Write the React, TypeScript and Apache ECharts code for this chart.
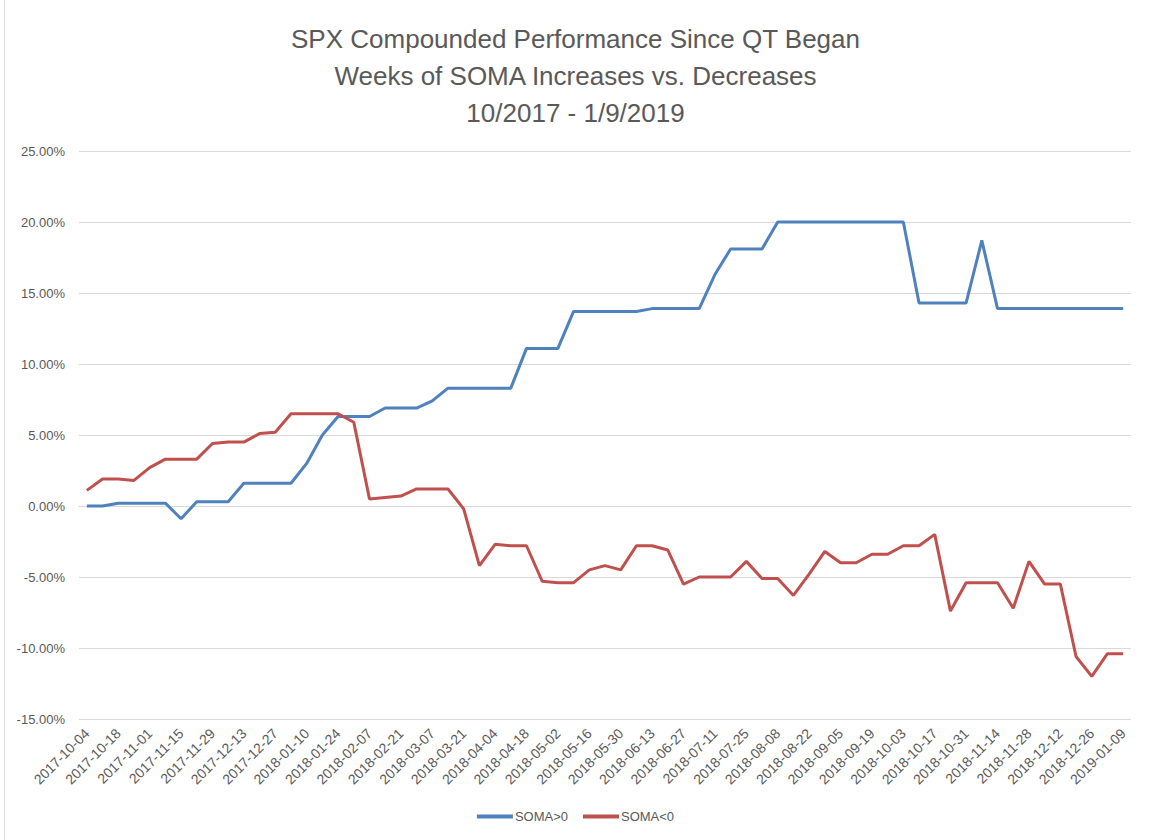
import React, { useEffect, useRef } from "react";
import * as echarts from "echarts";

const dates: string[] = [
  "2017-10-04", "2017-10-11", "2017-10-18", "2017-10-25", "2017-11-01", "2017-11-08", "2017-11-15", "2017-11-22", "2017-11-29",
  "2017-12-06", "2017-12-13", "2017-12-20", "2017-12-27", "2018-01-03", "2018-01-10", "2018-01-17", "2018-01-24", "2018-01-31",
  "2018-02-07", "2018-02-14", "2018-02-21", "2018-02-28", "2018-03-07", "2018-03-14", "2018-03-21", "2018-03-28", "2018-04-04",
  "2018-04-11", "2018-04-18", "2018-04-25", "2018-05-02", "2018-05-09", "2018-05-16", "2018-05-23", "2018-05-30", "2018-06-06",
  "2018-06-13", "2018-06-20", "2018-06-27", "2018-07-04", "2018-07-11", "2018-07-18", "2018-07-25", "2018-08-01", "2018-08-08",
  "2018-08-15", "2018-08-22", "2018-08-29", "2018-09-05", "2018-09-12", "2018-09-19", "2018-09-26", "2018-10-03", "2018-10-10",
  "2018-10-17", "2018-10-24", "2018-10-31", "2018-11-07", "2018-11-14", "2018-11-21", "2018-11-28", "2018-12-05", "2018-12-12",
  "2018-12-19", "2018-12-26", "2019-01-02", "2019-01-09",
];

// values in percent
const somaUp: number[] = [
  0.0, 0.0, 0.2, 0.2, 0.2, 0.2, -0.9, 0.3, 0.3, 0.3,
  1.6, 1.6, 1.6, 1.6, 3.0, 5.0, 6.3, 6.3, 6.3, 6.9,
  6.9, 6.9, 7.4, 8.3, 8.3, 8.3, 8.3, 8.3, 11.1, 11.1,
  11.1, 13.7, 13.7, 13.7, 13.7, 13.7, 13.9, 13.9, 13.9, 13.9,
  16.3, 18.1, 18.1, 18.1, 20.0, 20.0, 20.0, 20.0, 20.0, 20.0,
  20.0, 20.0, 20.0, 14.3, 14.3, 14.3, 14.3, 18.7, 13.9, 13.9,
  13.9, 13.9, 13.9, 13.9, 13.9, 13.9, 13.9,
];

const somaDown: number[] = [
  1.1, 1.9, 1.9, 1.8, 2.7, 3.3, 3.3, 3.3, 4.4, 4.5,
  4.5, 5.1, 5.2, 6.5, 6.5, 6.5, 6.5, 5.9, 0.5, 0.6,
  0.7, 1.2, 1.2, 1.2, -0.2, -4.2, -2.7, -2.8, -2.8, -5.3,
  -5.4, -5.4, -4.5, -4.2, -4.5, -2.8, -2.8, -3.1, -5.5, -5.0,
  -5.0, -5.0, -3.9, -5.1, -5.1, -6.3, -4.8, -3.2, -4.0, -4.0,
  -3.4, -3.4, -2.8, -2.8, -2.0, -7.4, -5.4, -5.4, -5.4, -7.2,
  -3.9, -5.5, -5.5, -10.6, -12.0, -10.4, -10.4,
];

const titleLines: string[] = [
  "SPX Compounded Performance Since QT Began",
  "Weeks of SOMA Increases vs. Decreases",
  "10/2017 - 1/9/2019",
];

export default function App() {
  const ref = useRef<HTMLDivElement>(null);
  useEffect(() => {
    if (!ref.current) return;
    const chart = echarts.init(ref.current, undefined, { renderer: "svg" });
    const font = "'Liberation Sans', Arial, sans-serif";
    chart.setOption({
      animation: false,
      backgroundColor: "#ffffff",
      textStyle: { fontFamily: font },
      title: {
        text: titleLines.join("\n"),
        left: "center",
        top: 20,
        padding: 0,
        textStyle: { fontSize: 26, fontWeight: "normal", color: "#595959", lineHeight: 37, fontFamily: font },
      },
      graphic: [
        { type: "line", shape: { x1: 4.5, y1: 0, x2: 4.5, y2: 840 }, style: { stroke: "#d9d9d9", lineWidth: 1 } },
      ],
      legend: {
        top: 810,
        left: "center",
        icon: "rect",
        itemWidth: 36,
        itemHeight: 4,
        itemGap: 15,
        padding: 0,
        textStyle: { fontSize: 13, color: "#595959", fontFamily: font, padding: [0, 0, 0, -3] },
        data: ["SOMA>0", "SOMA<0"],
      },
      grid: { left: 79, right: 20, top: 151, bottom: 121 },
      xAxis: {
        type: "category",
        data: dates,
        boundaryGap: true,
        axisLine: { show: true, lineStyle: { color: "#d9d9d9" } },
        axisTick: { show: false },
        axisLabel: { interval: 1, rotate: 45, fontSize: 14, color: "#595959", margin: 12, fontFamily: font },
      },
      yAxis: {
        type: "value",
        min: -15,
        max: 25,
        interval: 5,
        axisLine: { show: false },
        axisTick: { show: false },
        splitLine: { lineStyle: { color: "#d9d9d9", width: 1 } },
        axisLabel: {
          fontSize: 13,
          color: "#595959",
          margin: 14,
          fontFamily: font,
          formatter: (v: number) => v.toFixed(2) + "%",
        },
      },
      series: [
        {
          name: "SOMA>0",
          type: "line",
          data: somaUp,
          symbol: "none",
          lineStyle: { width: 3, color: "#4F81BD" },
          itemStyle: { color: "#4F81BD" },
        },
        {
          name: "SOMA<0",
          type: "line",
          data: somaDown,
          symbol: "none",
          lineStyle: { width: 3, color: "#C0504D" },
          itemStyle: { color: "#C0504D" },
        },
      ],
    });
    return () => chart.dispose();
  }, []);
  return (
    <div
      ref={ref}
      style={{ position: "fixed", left: 0, top: 0, width: 1151, height: 840 }}
    />
  );
}
